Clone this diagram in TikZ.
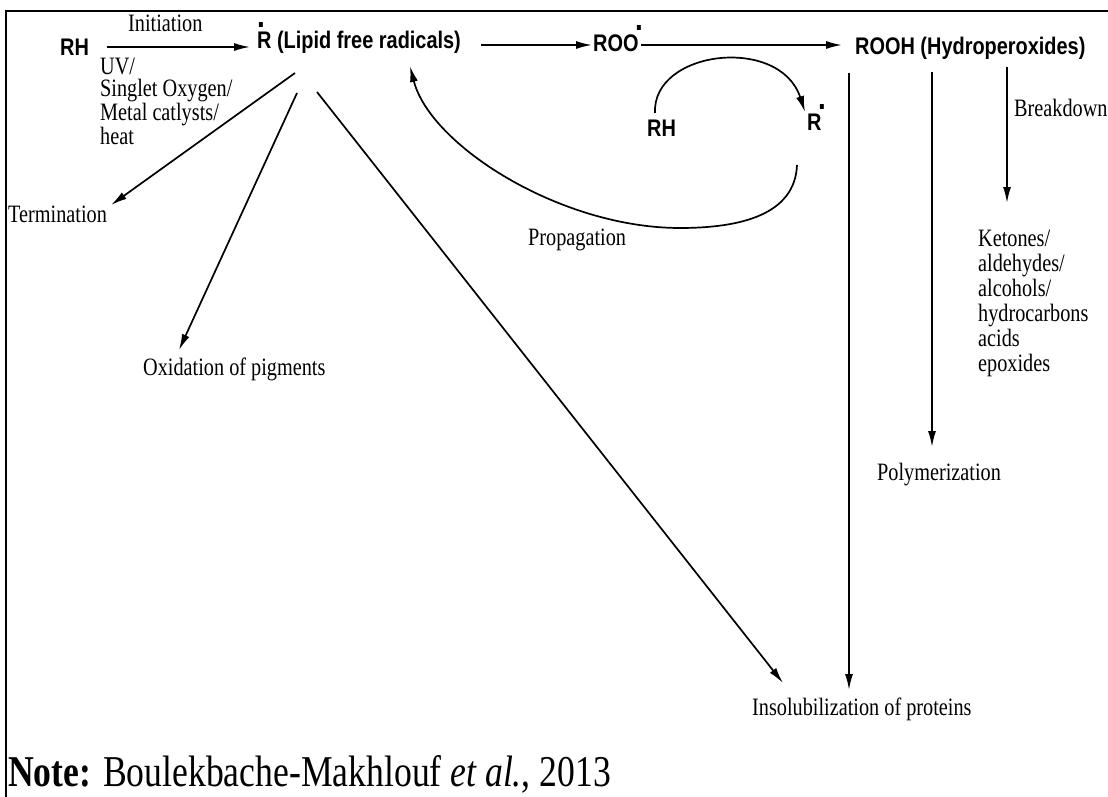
\documentclass[tikz,border=0pt]{standalone}
\usepackage{fontspec}
\usetikzlibrary{arrows.meta}
\newfontfamily\labelfont{Liberation Serif}[FakeStretch=0.81]
\newfontfamily\chemfont{Liberation Sans}[FakeStretch=0.83]
% radical dot over a formula, #1 = offset of the dot in em
\newcommand{\rdot}[2][0.5]{\leavevmode\rlap{\kern#1em\raisebox{0.9em}{\scalebox{1.4}{.}}}#2}

\tikzset{
  chem/.style={font=\chemfont\fontsize{24}{26}\selectfont\bfseries, inner sep=0pt, anchor=base west},
  lbl/.style={font=\labelfont\fontsize{25}{22}\selectfont, inner sep=0pt, anchor=base west},
  arr/.style={-{Latex[length=16pt,width=8pt]}, line width=1.7pt},
}

\begin{document}
\begin{tikzpicture}[x=1pt, y=-1pt]
\useasboundingbox (0,0) rectangle (1108,797);
\draw[line width=1.8pt] (1108,11) -- (6,11) -- (6,797);

% species
\node[chem] (rh) at (60,56) {RH};
\node[chem] (rad) at (257,49) {\rdot[0.0]{R} (Lipid free radicals)};
\node[chem] (roo) at (593,52) {\rdot[1.75]{ROO}};
\node[chem] (rooh) at (855,55) {ROOH (Hydroperoxides)};
\node[chem] (rh2) at (647,137) {RH};
\node[chem] (r2) at (807,131) {\rdot[0.45]{R}};

% labels
\node[lbl] (init) at (128,32) {Initiation};
\node[lbl, anchor=north west, align=left] (cause) at (100,58) {UV/\\Singlet Oxygen/\\Metal catlysts/\\heat};
\node[lbl] (term) at (8,222) {Termination};
\node[lbl] (oxid) at (143,375) {Oxidation of pigments};
\node[lbl] (prop) at (528,245) {Propagation};
\node[lbl] (insol) at (752,715) {Insolubilization of proteins};
\node[lbl] (poly) at (877,480) {Polymerization};
\node[lbl] (brk) at (1014,117) {Breakdown};
\node[lbl, anchor=north west, align=left, font=\labelfont\fontsize{25}{25}\selectfont] (prod) at (978,230)
    {Ketones/\\aldehydes/\\alcohols/\\hydrocarbons\\acids\\epoxides};
\node[lbl, font=\labelfont\fontsize{44}{48}\selectfont] (note) at (8,786)
    {\textbf{Note:} Boulekbache-Makhlouf \textit{et al.}, 2013};

% main chain
\draw[arr, shorten <=18pt, shorten >=7pt] ([yshift=9pt]rh.base east) -- ([yshift=2pt]rad.base west);
\draw[arr, shorten <=20pt, shorten >=1pt] ([yshift=4pt]rad.base east) -- ([yshift=7pt]roo.base west);
\draw[arr, shorten <=2pt, shorten >=13pt] ([yshift=7pt]roo.base east) -- ([yshift=10pt]rooh.base west);

% fates of the lipid radical
\draw[arr] ([xshift=38pt,yshift=-24pt]rad.base west) -- ([xshift=4pt,yshift=17pt]term.base east);
\draw[arr] ([xshift=40pt,yshift=-44pt]rad.base west) -- ([xshift=36pt,yshift=25pt]oxid.base west);
\draw[arr] ([xshift=60pt,yshift=-43pt]rad.base west) -- ([xshift=31pt,yshift=32pt]insol.base west);

% fates of the hydroperoxides
\draw[arr] ([xshift=-6pt,yshift=-18pt]rooh.base west) -- ([xshift=97pt,yshift=25pt]insol.base west);
\draw[arr] ([xshift=77pt,yshift=-17pt]rooh.base west) -- ([xshift=55pt,yshift=33pt]poly.base west);
\draw[arr] ([xshift=152pt,yshift=-12pt]rooh.base west) -- ([xshift=29pt,yshift=27pt]prod.north west);

% propagation loop
\draw[arr] ([xshift=8pt,yshift=24pt]rh2.base west) .. controls (652,50) and (780,35) .. ([xshift=-2pt,yshift=19pt]r2.base west);
\draw[arr] ([xshift=-10pt,yshift=-34pt]r2.base west) .. controls (795,215) and (740,228) .. (680,228)
    .. controls (560,228) and (430,145) .. ([xshift=153pt,yshift=-17pt]rad.base west);
\end{tikzpicture}
\end{document}
